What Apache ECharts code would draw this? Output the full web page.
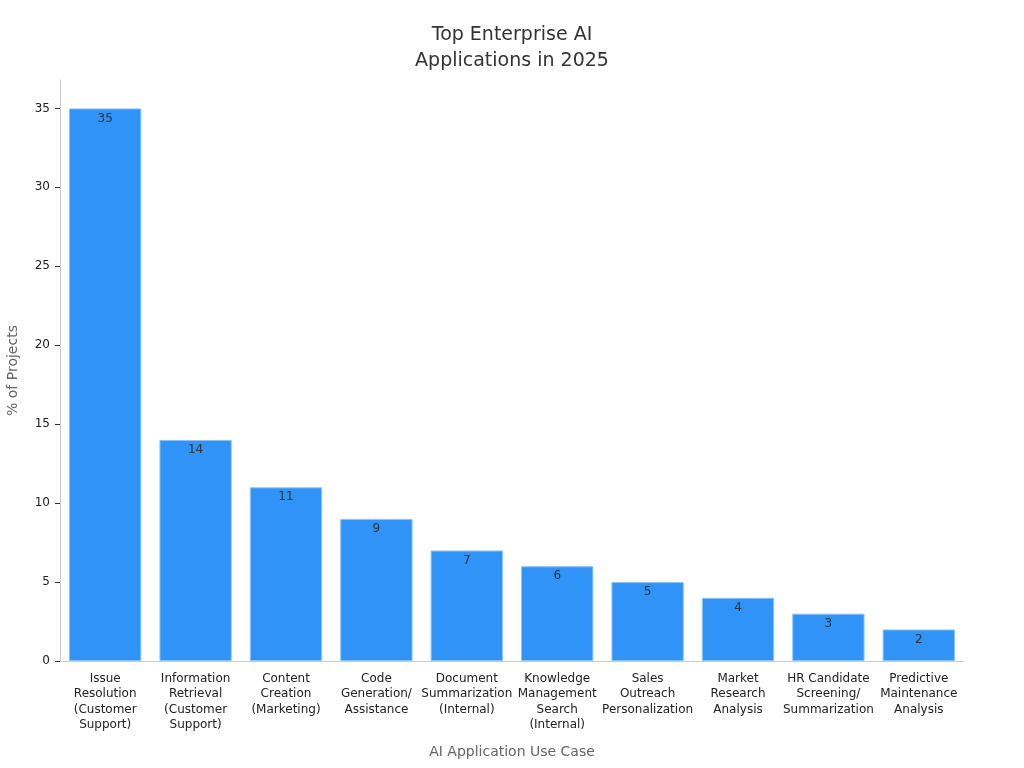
<!DOCTYPE html>
<html><head><meta charset="utf-8">
<script src="https://cdn.jsdelivr.net/npm/echarts@6/dist/echarts.min.js"></script>
<style>html,body{margin:0;padding:0;background:#fff}#c{width:1024px;height:768px}</style>
</head><body><div id="c"></div>
<script>
const categories = ["Issue\nResolution\n(Customer\nSupport)","Information\nRetrieval\n(Customer\nSupport)","Content\nCreation\n(Marketing)","Code\nGeneration/\nAssistance","Document\nSummarization\n(Internal)","Knowledge\nManagement\nSearch\n(Internal)","Sales\nOutreach\nPersonalization","Market\nResearch\nAnalysis","HR Candidate\nScreening/\nSummarization","Predictive\nMaintenance\nAnalysis"];
const values = [35,14,11,9,7,6,5,4,3,2];
const chart = echarts.init(document.getElementById('c'));
chart.setOption({
  animation:false,
  textStyle:{fontFamily:'DejaVu Sans'},
  title:{text:'Top Enterprise AI\nApplications in 2025',left:'center',top:17,textStyle:{fontSize:19,fontWeight:'normal',color:'#333',lineHeight:26,fontFamily:'DejaVu Sans'}},
  grid:{left:60,right:60,top:80,bottom:107,outerBoundsMode:'none',containLabel:false},
  xAxis:{type:'category',data:categories,name:'AI Application Use Case',nameLocation:'middle',nameGap:84,
    nameTextStyle:{fontSize:14,color:'#666'},
    axisLine:{lineStyle:{color:'#ccc'}},axisTick:{show:false},
    axisLabel:{interval:0,fontSize:12,color:'#222',lineHeight:15.5,margin:10}},
  yAxis:{type:'value',min:0,max:36.8,interval:5,name:'% of Projects',nameLocation:'middle',nameGap:40,
    nameTextStyle:{fontSize:14,color:'#666'},
    splitLine:{show:false},axisLine:{show:true,lineStyle:{color:'#ccc'}},
    axisTick:{show:true,length:5,lineStyle:{color:'#333'}},
    axisLabel:{showMaxLabel:false,fontSize:12,color:'#222',margin:10}},
  series:[{type:'bar',data:values,barCategoryGap:'20%',
    itemStyle:{color:'#2f93f7',borderColor:'#8cc4fa',borderWidth:1},
    label:{show:true,position:'insideTop',offset:[0,-1],color:'#333',fontSize:12}}]
});
</script></body></html>
